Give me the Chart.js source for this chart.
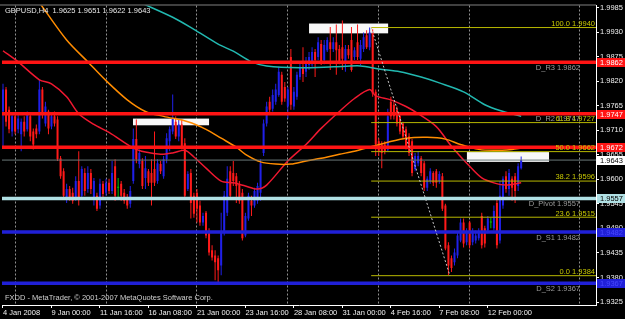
<!DOCTYPE html>
<html>
<head>
<meta charset="utf-8">
<script src="https://cdn.jsdelivr.net/npm/chart.js@4.4.1/dist/chart.umd.min.js"></script>
<style>
  html, body { margin: 0; padding: 0; background: #000; }
  canvas { display: block; }
</style>
</head>
<body>
<canvas id="chart" width="625" height="319"></canvas>
<script>
// GBPUSD H4 candles (bar 0 = 4 Jan 2008)
const opens = [
  1.9752,1.9801,1.9756,1.9707,1.9741,1.9712,1.9701,1.9729,1.9712,1.9741,
  1.9707,1.9714,1.9707,1.9801,1.9725,1.9752,1.9718,1.9741,1.9734,1.9647,
  1.9618,1.9556,1.9578,1.9570,1.9558,1.9596,1.9563,1.9614,1.9578,1.9614,
  1.9556,1.9563,1.9541,1.9590,1.9570,1.9592,1.9574,1.9629,1.9581,1.9590,
  1.9570,1.9558,1.9545,1.9596,1.9690,1.9634,1.9641,1.9603,1.9618,1.9614,
  1.9623,1.9596,1.9634,1.9607,1.9645,1.9685,1.9707,1.9729,1.9696,1.9723,
  1.9681,1.9578,1.9614,1.9563,1.9570,1.9541,1.9503,1.9525,1.9481,1.9441,
  1.9429,1.9423,1.9407,1.9481,1.9525,1.9618,1.9614,1.9607,1.9590,1.9570,
  1.9474,1.9512,1.9552,1.9541,1.9552,1.9570,1.9659,1.9725,1.9774,1.9758,
  1.9774,1.9789,1.9834,1.9807,1.9763,1.9874,1.9763,1.9785,1.9829,1.9852,
  1.9841,1.9856,1.9858,1.9885,1.9874,1.9903,1.9867,1.9889,1.9907,1.9892,
  1.9907,1.9892,1.9896,1.9863,1.9892,1.9912,1.9874,1.9907,1.9870,1.9892,
  1.9923,1.9896,1.9929,1.9796,1.9685,1.9678,1.9678,1.9667,1.9774,1.9767,
  1.9756,1.9741,1.9725,1.9712,1.9696,1.9685,1.9623,1.9636,1.9647,1.9636,
  1.9581,1.9596,1.9614,1.9618,1.9596,1.9607,1.9541,1.9452,1.9423,1.9414,
  1.9429,1.9463,1.9503,1.9459,1.9503,1.9459,1.9463,1.9468,1.9518,1.9490,
  1.9485,1.9503,1.9490,1.9547,1.9463,1.9541,1.9607,1.9578,1.9601,1.9607,
  1.9585,1.9625
];
const highs = [
  1.9814,1.9807,1.9763,1.9747,1.9747,1.9745,1.9736,1.9741,1.9752,1.9747,
  1.9714,1.9723,1.9823,1.9807,1.9774,1.9756,1.9747,1.9752,1.9741,1.9652,
  1.9625,1.9590,1.9585,1.9581,1.9607,1.9663,1.9629,1.9625,1.9629,1.9623,
  1.9603,1.9570,1.9601,1.9596,1.9601,1.9601,1.9641,1.9645,1.9603,1.9596,
  1.9578,1.9567,1.9585,1.9714,1.9734,1.9667,1.9647,1.9652,1.9623,1.9645,
  1.9707,1.9645,1.9641,1.9652,1.9703,1.9718,1.9790,1.9741,1.9736,1.9734,
  1.9692,1.9618,1.9623,1.9570,1.9578,1.9552,1.9525,1.9529,1.9490,1.9452,
  1.9441,1.9429,1.9525,1.9574,1.9629,1.9629,1.9641,1.9614,1.9596,1.9578,
  1.9525,1.9570,1.9563,1.9581,1.9592,1.9645,1.9734,1.9774,1.9785,1.9801,
  1.9814,1.9852,1.9841,1.9818,1.9807,1.9892,1.9807,1.9841,1.9865,1.9896,
  1.9874,1.9885,1.9896,1.9892,1.9918,1.9912,1.9912,1.9918,1.9941,1.9918,
  1.9947,1.9901,1.9956,1.9901,1.9901,1.9941,1.9896,1.9947,1.9912,1.9929,
  1.9934,1.9940,1.9936,1.9801,1.9692,1.9685,1.9685,1.9758,1.9785,1.9774,
  1.9763,1.9747,1.9729,1.9718,1.9703,1.9690,1.9659,1.9663,1.9652,1.9641,
  1.9607,1.9625,1.9618,1.9623,1.9618,1.9614,1.9545,1.9459,1.9429,1.9445,
  1.9481,1.9512,1.9512,1.9490,1.9507,1.9490,1.9485,1.9490,1.9525,1.9496,
  1.9518,1.9514,1.9541,1.9556,1.9596,1.9607,1.9618,1.9623,1.9607,1.9614,
  1.9636,1.9651
];
const lows = [
  1.9670,1.9718,1.9703,1.9696,1.9701,1.9703,1.9663,1.9696,1.9707,1.9685,
  1.9667,1.9692,1.9701,1.9736,1.9718,1.9701,1.9712,1.9718,1.9641,1.9601,
  1.9556,1.9547,1.9552,1.9545,1.9552,1.9541,1.9556,1.9563,1.9570,1.9567,
  1.9541,1.9529,1.9534,1.9558,1.9563,1.9567,1.9567,1.9552,1.9558,1.9552,
  1.9545,1.9534,1.9536,1.9590,1.9636,1.9625,1.9578,1.9578,1.9585,1.9541,
  1.9585,1.9590,1.9612,1.9601,1.9636,1.9663,1.9701,1.9690,1.9685,1.9667,
  1.9556,1.9574,1.9512,1.9514,1.9503,1.9496,1.9496,1.9468,1.9429,1.9418,
  1.9374,1.9363,1.9385,1.9474,1.9518,1.9556,1.9585,1.9547,1.9545,1.9463,
  1.9470,1.9507,1.9518,1.9536,1.9545,1.9552,1.9652,1.9718,1.9747,1.9752,
  1.9767,1.9785,1.9767,1.9774,1.9736,1.9756,1.9756,1.9778,1.9823,1.9818,
  1.9829,1.9845,1.9852,1.9829,1.9867,1.9856,1.9858,1.9885,1.9845,1.9885,
  1.9834,1.9858,1.9845,1.9841,1.9870,1.9841,1.9867,1.9867,1.9856,1.9885,
  1.9892,1.9889,1.9785,1.9652,1.9652,1.9625,1.9656,1.9663,1.9734,1.9734,
  1.9718,1.9701,1.9690,1.9667,1.9652,1.9607,1.9618,1.9629,1.9607,1.9574,
  1.9574,1.9590,1.9585,1.9581,1.9590,1.9529,1.9441,1.9385,1.9392,1.9407,
  1.9423,1.9459,1.9447,1.9452,1.9445,1.9452,1.9456,1.9463,1.9445,1.9447,
  1.9479,1.9490,1.9485,1.9445,1.9456,1.9534,1.9570,1.9563,1.9552,1.9547,
  1.9574,1.9622
];
const closes = [
  1.9801,1.9729,1.9712,1.9741,1.9707,1.9736,1.9729,1.9707,1.9745,1.9696,
  1.9678,1.9701,1.9801,1.9745,1.9763,1.9714,1.9741,1.9725,1.9645,1.9607,
  1.9563,1.9578,1.9558,1.9552,1.9596,1.9558,1.9623,1.9574,1.9614,1.9578,
  1.9596,1.9534,1.9590,1.9567,1.9592,1.9574,1.9614,1.9563,1.9581,1.9563,
  1.9552,1.9541,1.9574,1.9690,1.9645,1.9659,1.9585,1.9625,1.9592,1.9592,
  1.9592,1.9636,1.9618,1.9645,1.9692,1.9712,1.9736,1.9696,1.9723,1.9674,
  1.9563,1.9612,1.9547,1.9523,1.9534,1.9503,1.9518,1.9474,1.9436,1.9425,
  1.9414,1.9396,1.9481,1.9563,1.9601,1.9563,1.9596,1.9585,1.9552,1.9468,
  1.9518,1.9563,1.9541,1.9574,1.9585,1.9636,1.9725,1.9763,1.9756,1.9789,
  1.9801,1.9841,1.9774,1.9781,1.9801,1.9767,1.9796,1.9834,1.9852,1.9836,
  1.9863,1.9874,1.9885,1.9867,1.9907,1.9863,1.9901,1.9912,1.9892,1.9907,
  1.9889,1.9863,1.9870,1.9892,1.9878,1.9845,1.9889,1.9874,1.9901,1.9918,
  1.9896,1.9929,1.9792,1.9678,1.9663,1.9659,1.9663,1.9741,1.9741,1.9741,
  1.9725,1.9707,1.9696,1.9674,1.9659,1.9614,1.9652,1.9652,1.9614,1.9581,
  1.9601,1.9618,1.9592,1.9592,1.9612,1.9534,1.9445,1.9407,1.9401,1.9436,
  1.9474,1.9503,1.9456,1.9481,1.9452,1.9481,1.9474,1.9481,1.9452,1.9456,
  1.9512,1.9503,1.9529,1.9452,1.9563,1.9601,1.9578,1.9614,1.9581,1.9574,
  1.9629,1.9643
];

// time axis labels (every 16 bars) and dotted grid positions (bar index)
const dateLabels = ['4 Jan 2008','9 Jan 00:00','11 Jan 16:00','16 Jan 08:00','21 Jan 00:00',
  '23 Jan 16:00','28 Jan 08:00','31 Jan 00:00','4 Feb 16:00','7 Feb 08:00','12 Feb 00:00'];
const dateLabelBars = [0,16,32,48,64,80,96,112,128,144,160];
const gridBars = [4,34,64,94,124,154,190.4];
const priceTicks = [1.9985,1.9930,1.9875,1.9820,1.9765,1.9710,1.9655,1.9600,1.9545,1.9490,1.9435,1.9380,1.9325];

// moving averages: [bar, price]
const maCyan = [[46,1.9994],[56,1.9963],[63,1.9936],[71,1.9903],[76,1.9887],[82,1.9863],[87,1.9854],
  [98,1.9850],[109,1.9852],[118,1.9854],[124,1.9847],[131,1.9841],[138,1.9829],[144,1.9816],[152,1.9796],
  [159,1.9767],[164,1.9754],[171,1.9741]];
const maOrange = [[12,1.9996],[21,1.9912],[28,1.9863],[34,1.9821],[41,1.9778],[47,1.9752],[53,1.9741],
  [61,1.9729],[67,1.9712],[72,1.9692],[77,1.9672],[80,1.9656],[85,1.9639],[90,1.9634],[95,1.9634],
  [100,1.9641],[105,1.9647],[111,1.9656],[116,1.9663],[122,1.9674],[127,1.9683],[133,1.9692],[140,1.9694],
  [146,1.9690],[151,1.9678],[157,1.9667],[162,1.9665],[168,1.9667],[171,1.9670]];
const maRed = [[0,1.9888],[5,1.9863],[12,1.9823],[16,1.9814],[21,1.9785],[25,1.9747],[30,1.9723],[35,1.9705],
  [43,1.9670],[47,1.9661],[52,1.9656],[56,1.9659],[60,1.9665],[63,1.9650],[67,1.9625],[72,1.9596],[76,1.9592],
  [80,1.9585],[84,1.9578],[87,1.9587],[94,1.9641],[100,1.9678],[105,1.9714],[111,1.9752],[116,1.9781],
  [121,1.9801],[123,1.9787],[128,1.9778],[133,1.9763],[137,1.9747],[143,1.9718],[148,1.9674],[154,1.9629],
  [158,1.9603],[162,1.9592],[166,1.9587],[171,1.9592]];

// daily pivots
const pivotNames = ['D_R3','D_R2','D_R1','D_Pivot','D_S1','D_S2'];
const pivotLevels = [1.9862,1.9747,1.9672,1.9557,1.9482,1.9367];
const pivotShown = [true,true,false,true,true,true];

// fibonacci retracement from the 31 Jan high to the 7 Feb low
const fibNames = ['100.0','61.8','50.0','38.2','23.6','0.0'];
const fibLevels = [1.9940,1.9727,1.9662,1.9596,1.9515,1.9384];
const fibStart = [121.5,1.9940];
const fibEnd = [147.5,1.9384];

// white zone rectangles: [fromBar, toBar, top, bottom]
const zones = [[42.9,68.0,1.9736,1.9721],[101.0,127.1,1.9949,1.9927],[153.1,180.2,1.9661,1.9639]];

const BULL = '#2020e8', BEAR = '#ff1a1a', DOJI = '#00c800';
const FONT = 'Liberation Sans';
const n = closes.length;
const last = n - 1;
const lastPrice = closes[last];
const xMin = -0.33, xMax = 195.7;

const idx = closes.map((c, i) => i);
const barColor = idx.map(i => closes[i] > opens[i] ? BULL : (closes[i] < opens[i] ? BEAR : DOJI));

function hline(level, from, to, color, width) {
  return {
    type: 'line', data: [{x: from, y: level}, {x: to, y: level}],
    borderColor: color, borderWidth: width, pointRadius: 0, clip: 0, order: 1
  };
}
function maLine(points, color) {
  return {
    type: 'line', data: points.map(p => ({x: p[0], y: p[1]})),
    borderColor: color, borderWidth: 1.5, pointRadius: 0, clip: 0, order: 2, tension: 0.3
  };
}

const pivotColors = ['#ff1414','#ff1414','#ff1414','#b0e0e4','#2020d8','#2020d8'];
const pivotText = ['#ffffff','#ffffff','#ffffff','#000000','#4848ff','#4848ff'];

const datasets = [
  { type: 'bar', data: idx.map(i => ({x: i, y: [lows[i], highs[i]]})), backgroundColor: barColor,
    barThickness: 1, grouped: false, inflateAmount: 0, order: 5 },
  { type: 'bar', data: idx.map(i => ({x: i, y: [opens[i], closes[i]]})), backgroundColor: barColor,
    barThickness: 2, minBarLength: 1, grouped: false, inflateAmount: 0, order: 4 },
  maLine(maCyan, '#22b8b0'),
  maLine(maOrange, '#ff8c00'),
  maLine(maRed, '#f01830'),
  hline(lastPrice, xMin, xMax, '#6a7878', 1)
];
pivotLevels.forEach((v, k) => datasets.push(hline(v, xMin, xMax, pivotColors[k], 3.5)));
fibLevels.forEach(v => datasets.push(hline(v, fibStart[0], xMax, '#b8b800', 1)));
datasets.push({
  type: 'line', data: [{x: fibStart[0], y: fibStart[1]}, {x: fibEnd[0], y: fibEnd[1]}],
  borderColor: '#c8c8c8', borderWidth: 1, borderDash: [2, 2], pointRadius: 0, clip: 0, order: 0
});

const overlay = {
  id: 'overlay',
  beforeDatasetsDraw(chart) {
    const {ctx, scales: {x, y}} = chart;
    const a = chart.chartArea;
    ctx.save();
    ctx.beginPath();
    ctx.rect(a.left, a.top, a.right - a.left, a.bottom - a.top);
    ctx.clip();
    ctx.fillStyle = '#f8f8f8';
    zones.forEach(z => {
      const x0 = x.getPixelForValue(z[0]), x1 = x.getPixelForValue(z[1]);
      const y0 = y.getPixelForValue(z[2]), y1 = y.getPixelForValue(z[3]);
      ctx.fillRect(x0, y0, x1 - x0, y1 - y0);
    });
    ctx.restore();
  },
  afterDraw(chart) {
    const {ctx, scales: {y}} = chart;
    const a = chart.chartArea;
    ctx.save();
    // top frame line
    ctx.strokeStyle = '#808080';
    ctx.lineWidth = 1;
    ctx.beginPath();
    ctx.moveTo(0, a.top - 0.5);
    ctx.lineTo(a.right, a.top - 0.5);
    ctx.stroke();

    ctx.font = '7.5px "' + FONT + '"';
    // pivot labels, below their lines
    ctx.textAlign = 'right';
    ctx.textBaseline = 'top';
    ctx.fillStyle = '#9a9a9a';
    pivotLevels.forEach((v, k) => {
      if (!pivotShown[k]) return;
      ctx.fillText(pivotNames[k] + ' ' + v.toFixed(4), a.right - 16, y.getPixelForValue(v) + 2);
    });
    // fib labels, above their lines
    ctx.textBaseline = 'bottom';
    ctx.fillStyle = '#c8c800';
    fibLevels.forEach((v, k) => {
      ctx.fillText(fibNames[k] + ' ' + v.toFixed(4), a.right - 1, y.getPixelForValue(v));
    });
    // price boxes on the right axis
    ctx.textAlign = 'left';
    ctx.textBaseline = 'middle';
    const boxes = pivotLevels.map((v, k) => [v, pivotColors[k], pivotText[k]]);
    boxes.push([lastPrice, '#ffffff', '#000000']);
    boxes.forEach(b => {
      const py = Math.round(y.getPixelForValue(b[0]));
      ctx.fillStyle = b[1];
      ctx.fillRect(a.right + 1, py - 4, chart.width - a.right - 1, 9);
      ctx.fillStyle = b[2];
      ctx.fillText(b[0].toFixed(4), a.right + 4, py + 0.5);
    });
    // header and footer texts
    ctx.fillStyle = '#e8e8e8';
    ctx.fillText('GBPUSD,H4  ' + [opens[last], highs[last], lows[last], closes[last]].map(v => v.toFixed(4)).join(' '),
      a.left + 3, a.top + 5);
    ctx.fillStyle = '#d0d0d0';
    ctx.fillText('FXDD - MetaTrader, \u00a9 2001-2007 MetaQuotes Software Corp.', a.left + 3, a.bottom - 7);
    ctx.restore();
  }
};

new Chart(document.getElementById('chart'), {
  type: 'bar',
  data: { datasets },
  options: {
    responsive: false,
    maintainAspectRatio: false,
    devicePixelRatio: 1,
    animation: false,
    events: [],
    layout: { padding: { left: 2, top: 3, right: 0, bottom: 0 } },
    plugins: { legend: { display: false }, tooltip: { enabled: false } },
    scales: {
      x: {
        type: 'linear', position: 'bottom', min: xMin, max: xMax, offset: false,
        afterBuildTicks: s => { s.ticks = dateLabelBars.map(v => ({value: v})); },
        afterFit: s => { s.height = 14; s.paddingLeft = 0; s.paddingRight = 0; },
        ticks: {
          autoSkip: false, maxRotation: 0, minRotation: 0, align: 'start', padding: 0,
          color: '#f0f0f0', font: { family: FONT, size: 7.5 },
          callback: v => dateLabels[dateLabelBars.indexOf(v)]
        },
        grid: { drawOnChartArea: false, offset: false, tickLength: 3, color: '#ffffff' },
        border: { color: '#ffffff' }
      },
      xg: {
        type: 'linear', position: 'bottom', min: xMin, max: xMax, offset: false,
        afterBuildTicks: s => { s.ticks = gridBars.map(v => ({value: v})); },
        afterFit: s => { s.height = 0; s.paddingLeft = 0; s.paddingRight = 0; },
        ticks: { display: false },
        grid: { color: '#909090', drawTicks: false, offset: false },
        border: { display: false, dash: [2, 2] }
      },
      y: {
        type: 'linear', position: 'right', min: 1.93183, max: 1.99894,
        afterBuildTicks: s => { s.ticks = priceTicks.map(v => ({value: v})); },
        afterFit: s => { s.width = 29; },
        ticks: {
          color: '#f0f0f0', font: { family: FONT, size: 7.5 }, padding: 1,
          callback: v => v.toFixed(4)
        },
        grid: { drawOnChartArea: false, tickLength: 3, color: '#ffffff' },
        border: { color: '#ffffff' }
      }
    }
  },
  plugins: [overlay]
});
</script>
</body>
</html>
